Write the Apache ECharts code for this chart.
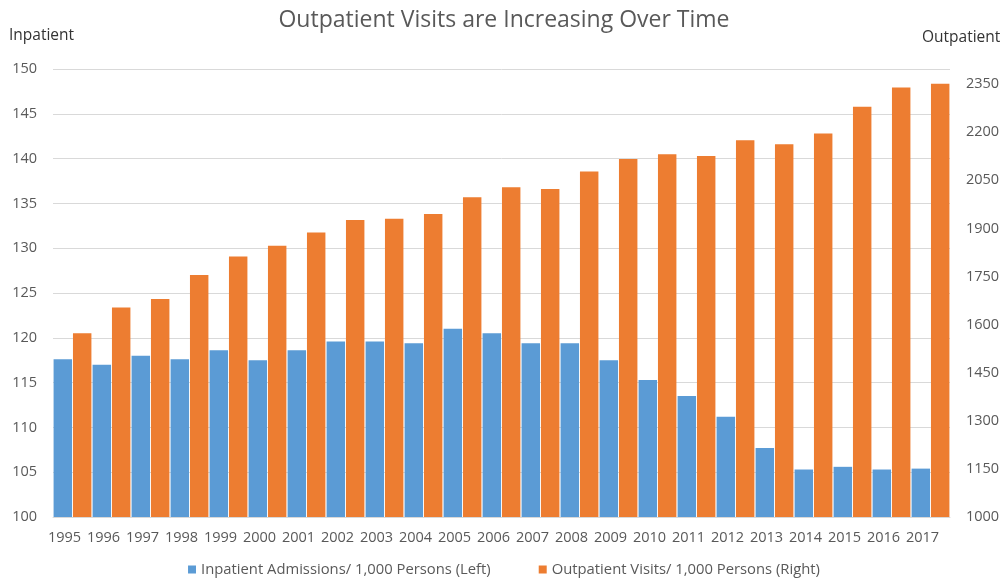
<!DOCTYPE html>
<html>
<head>
<meta charset="utf-8">
<script src="https://cdn.jsdelivr.net/npm/echarts@6/dist/echarts.min.js"></script>
<style>
html,body{margin:0;padding:0;background:#fff;}
#chart{width:1008px;height:584px;}
</style>
</head>
<body>
<div id="chart"></div>
<script>
var years = ['1995','1996','1997','1998','1999','2000','2001','2002','2003','2004','2005','2006','2007','2008','2009','2010','2011','2012','2013','2014','2015','2016','2017'];
var inpatient = [117.6,117.0,118.0,117.6,118.6,117.5,118.6,119.6,119.6,119.4,121.0,120.5,119.4,119.4,117.5,115.3,113.5,111.2,107.7,105.3,105.6,105.3,105.4];
var outpatient = [1573,1653,1680,1755,1812,1846,1887,1926,1930,1945,1997,2028,2023,2077,2116,2131,2126,2175,2162,2196,2279,2339,2351];
var seriesNames = ['Inpatient Admissions/ 1,000 Persons (Left)','Outpatient Visits/ 1,000 Persons (Right)'];

var FONT = '"Open Sans", "DejaVu Sans", sans-serif';
var chart = echarts.init(document.getElementById('chart'));
chart.setOption({
  animation: false,
  backgroundColor: '#ffffff',
  title: {
    text: 'Outpatient Visits are Increasing Over Time',
    left: 'center',
    top: 4,
    textStyle: {fontFamily: FONT, fontSize: 23, fontWeight: 'normal', color: '#595959'}
  },
  legend: {
    bottom: 2,
    left: 'center',
    itemWidth: 8,
    itemHeight: 8,
    itemGap: 48,
    icon: 'rect',
    textStyle: {fontFamily: FONT, fontSize: 14.8, color: '#595959'},
    data: seriesNames
  },
  grid: {left: 53, right: 58, top: 69, bottom: 67, containLabel: false},
  xAxis: {
    type: 'category',
    data: years,
    axisTick: {show: false},
    axisLine: {show: true, lineStyle: {color: '#d9d9d9'}},
    axisLabel: {fontFamily: FONT, fontSize: 14.5, color: '#595959', margin: 13, interval: 0, padding: [0, 16, 0, 0]}
  },
  yAxis: [
    {
      type: 'value',
      min: 100, max: 150, interval: 5,
      name: 'Inpatient',
      nameLocation: 'end',
      nameGap: 25,
      nameTextStyle: {fontFamily: FONT, fontSize: 15.5, color: '#333333', align: 'left', padding: [0, 0, 0, -44]},
      axisLine: {show: false},
      axisTick: {show: false},
      axisLabel: {fontFamily: FONT, fontSize: 14.5, color: '#595959', margin: 16},
      splitLine: {show: true, lineStyle: {color: '#d9d9d9', width: 1}}
    },
    {
      type: 'value',
      min: 1000, max: 2397, interval: 150,
      name: 'Outpatient',
      nameLocation: 'end',
      nameGap: 23,
      nameTextStyle: {fontFamily: FONT, fontSize: 15.5, color: '#333333', align: 'left', padding: [0, 0, 0, -28]},
      axisLine: {show: false},
      axisTick: {show: false},
      axisLabel: {fontFamily: FONT, fontSize: 14.5, color: '#595959', margin: 16, showMaxLabel: false,
        formatter: function (v) { return String(v); }},
      splitLine: {show: false}
    }
  ],
  series: [
    {
      name: seriesNames[0],
      type: 'bar',
      yAxisIndex: 0,
      data: inpatient,
      itemStyle: {color: '#5B9BD5'},
      barGap: '5%',
      barCategoryGap: '3%'
    },
    {
      name: seriesNames[1],
      type: 'bar',
      yAxisIndex: 1,
      data: outpatient,
      itemStyle: {color: '#ED7D31'},
      barGap: '5%',
      barCategoryGap: '3%'
    }
  ]
});
</script>
</body>
</html>
